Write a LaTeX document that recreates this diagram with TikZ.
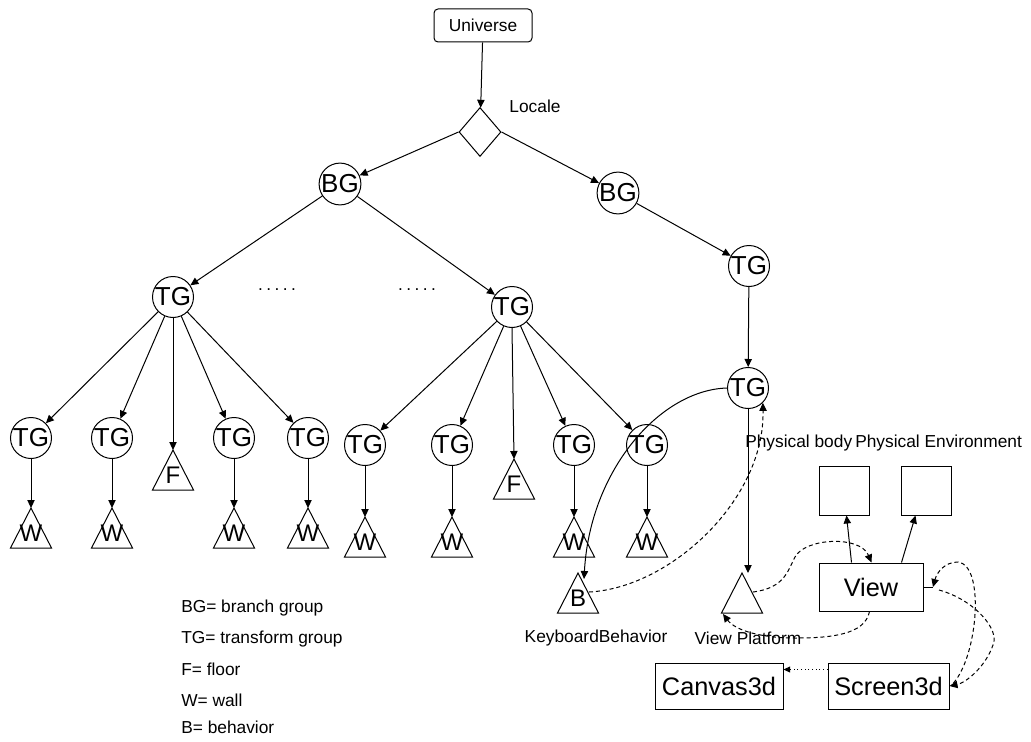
\documentclass[tikz,border=0pt]{standalone}
\usepackage{fontspec}
\setmainfont{Liberation Sans}
\usetikzlibrary{arrows.meta,shapes.geometric,calc}
\tikzset{
  lw/.style={line width=0.75pt},
  arr/.style={lw,-{Triangle[length=6pt,width=5.5pt]}},
  dsh/.style={lw,dash pattern=on 3pt off 2.2pt},
  grp/.style={circle,draw,lw,minimum size=30.75pt,inner sep=0pt,font=\fontsize{19.5}{20}\selectfont},
  trilab/.style={inner sep=0pt,font=\fontsize{18}{19}\selectfont},
  lab/.style={inner sep=0pt,font=\fontsize{13}{15}\selectfont},
  bigbox/.style={draw,lw,inner sep=0pt,font=\fontsize{19}{20}\selectfont},
}
\newcommand\mytri[4]{% name, x, ybase, label
  \draw[lw] (#2-20.5,#3) -- (#2,#3-40) -- (#2+20.5,#3) -- cycle;
  \coordinate (#1) at (#2,#3-40);
  \node[trilab] (#1l) at (#2,#3-15) {#4};
}
\begin{document}
\begin{tikzpicture}[x=0.75pt,y=-0.75pt]
\useasboundingbox (0,0) rectangle (1031,742);

% top
\node[draw,lw,rounded corners=3pt,minimum width=73.5pt,minimum height=24.75pt,inner sep=0pt,font=\fontsize{13}{15}\selectfont] (univ) at (483,25.5) {Universe};
\node[diamond,draw,lw,minimum width=31.5pt,minimum height=36.75pt,aspect=0.86,inner sep=0pt] (loc) at (480,132) {};
\node[lab] (loclab) at (535,106) {Locale};

\node[grp] (bg1) at (340,184) {BG};
\node[grp] (bg2) at (618,193) {BG};
\node[grp] (tgr1) at (749,266) {TG};
\node[grp] (tgr2) at (748,388) {TG};
\node[grp] (tgl) at (173,297) {TG};
\node[grp] (tgm) at (512,307) {TG};
\node[lab] (dots1) at (277,290) {.\hspace{2.6pt}.\hspace{2.6pt}.\hspace{2.6pt}.\hspace{2.6pt}.};
\node[lab] (dots2) at (417,290) {.\hspace{2.6pt}.\hspace{2.6pt}.\hspace{2.6pt}.\hspace{2.6pt}.};

% level 3 left
\node[grp] (t1) at (31,438) {TG};
\node[grp] (t2) at (112,438) {TG};
\mytri{f1}{173}{490}{F}
\node[grp] (t3) at (234,438) {TG};
\node[grp] (t4) at (308,438) {TG};
\mytri{w1}{31}{548}{W}
\mytri{w2}{112}{548}{W}
\mytri{w3}{234}{548}{W}
\mytri{w4}{308}{548}{W}

% level 3 right
\node[grp] (t5) at (365,445) {TG};
\node[grp] (t6) at (452,445) {TG};
\mytri{f2}{514}{499}{F}
\node[grp] (t7) at (574,445) {TG};
\node[grp] (t8) at (647,445) {TG};
\mytri{w5}{365}{557}{W}
\mytri{w6}{452}{557}{W}
\mytri{w7}{574}{557}{W}
\mytri{w8}{647}{557}{W}

% behavior and view platform
\mytri{bb}{578}{613}{B}
\node[lab] (kblab) at (596,638) {KeyboardBehavior};
\mytri{vp}{742}{613}{}
\node[lab] (vplab) at (748,638) {View Platform};
\coordinate (bin) at (584,579);
\coordinate (br) at (589,592);
\coordinate (vpr) at (753,592);
\coordinate (vpbl) at (723,614);

% view side
\node[lab,anchor=west] (pblab) at (745,443) {Physical body};
\node[lab,anchor=west] (pelab) at (855,443) {Physical Environment};
\node[draw,lw,minimum width=37.5pt,minimum height=36.75pt,inner sep=0pt] (pb) at (844,490.5) {};
\node[draw,lw,minimum width=37.5pt,minimum height=36.75pt,inner sep=0pt] (pe) at (926,490.5) {};
\node[bigbox,minimum width=78pt,minimum height=36pt] (view) at (871,587) {View};
\node[bigbox,minimum width=96pt,minimum height=34.5pt] (cv) at (719,686) {Canvas3d};
\node[bigbox,minimum width=90.75pt,minimum height=34.5pt] (sc) at (888.5,686) {Screen3d};
\coordinate (vst) at (933,587);

% legend
\node[lab,anchor=west] (lg1) at (181,608) {BG= branch group};
\node[lab,anchor=west] (lg2) at (181,639) {TG= transform group};
\node[lab,anchor=west] (lg3) at (181,669) {F= floor};
\node[lab,anchor=west] (lg4) at (181,700) {W= wall};
\node[lab,anchor=west] (lg5) at (181,727) {B= behavior};

% connectors
\draw[arr] (univ) -- (loc);
\draw[arr] (loc.west) -- (bg1);
\draw[arr] (loc.east) -- (bg2);
\draw[arr] (bg1) -- (tgl);
\draw[arr] (bg1) -- (tgm);
\draw[arr] (bg2) -- (tgr1);
\draw[arr] (tgr1) -- (tgr2);
\draw[arr] (tgl) -- (t1);
\draw[arr] (tgl) -- (t2);
\draw[arr] (tgl) -- (f1);
\draw[arr] (tgl) -- (t3);
\draw[arr] (tgl) -- (t4);
\draw[arr] (tgm) -- (t5);
\draw[arr] (tgm) -- (t6);
\draw[arr] (tgm.south) -- (f2);
\draw[arr] (tgm) -- (t7);
\draw[arr] (tgm) -- (t8);
\foreach \a/\b in {t1/w1,t2/w2,t3/w3,t4/w4,t5/w5,t6/w6,t7/w7,t8/w8}
  \draw[arr] (\a) -- (\b);
\draw[arr] (tgr2.south) -- (tgr2.south |- vp);
\draw[arr] (tgr2.west) .. controls (660,390) and (590,470) .. (bin);
\draw[dsh,-{Triangle[length=6pt,width=5.5pt]}] (br) .. controls (670,588) and (765,500) .. (tgr2.south east);
\draw[arr] ($(view.north west)+(33,0)$) -- ($(pb.south west)+(28,0)$);
\draw[arr] ($(view.north west)+(83,0)$) -- ($(pe.south west)+(15,0)$);
\draw[dsh,-{Triangle[length=6pt,width=5.5pt]}] (vpr) .. controls (785,588) and (788,570) .. (795,557) .. controls (805,538) and (860,535) .. ($(view.north west)+(53,0)$);
\draw[dsh,-{Triangle[length=6pt,width=5.5pt]}] ($(view.south west)+(51,0)$) .. controls (865,635) and (830,638) .. (795,638) .. controls (760,638) and (735,630) .. (vpbl);
\draw[lw] (view.east) -- (vst);
\draw[dsh,-{Triangle[length=6pt,width=5.5pt]}] ($(sc.east)+(4,-3)$) .. controls (978,655) and (985,565) .. (958,562) .. controls (945,562) and (937,572) .. (vst);
\draw[dsh,-{Triangle[length=6pt,width=5.5pt]}] ($(vst)+(6,3)$) .. controls (975,600) and (1000,630) .. (993,645) .. controls (985,668) and (965,683) .. (sc.east);
\draw[lw,dotted,-{Triangle[length=5pt,width=4.5pt]}] ($(sc.north west)+(0,7)$) -- ($(cv.north east)+(0,7)$);
\end{tikzpicture}
\end{document}
